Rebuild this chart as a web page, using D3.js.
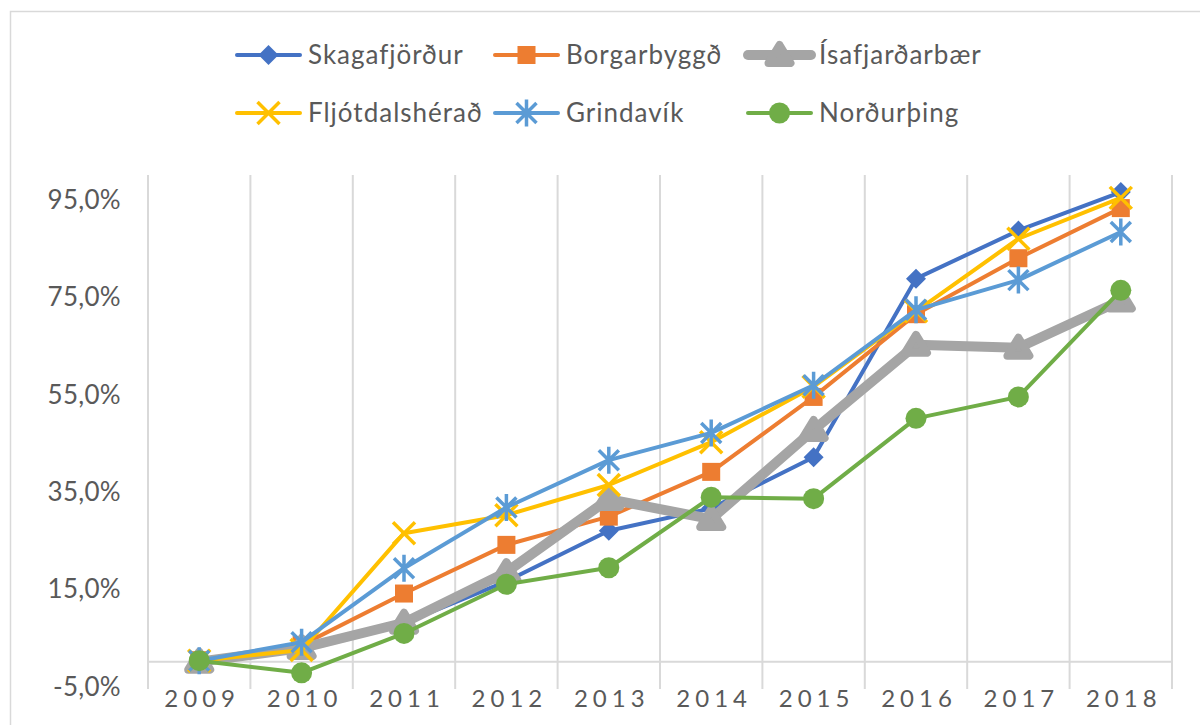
<!DOCTYPE html>
<html>
<head>
<meta charset="utf-8">
<script src="https://cdn.jsdelivr.net/npm/d3@7"></script>
<style>
  body { margin: 0; background: #fff; }
  svg text { font-family: Lato, "Open Sans", sans-serif; fill: #595959; }
</style>
</head>
<body>
<svg id="chart" width="1200" height="725"></svg>
<script>
const years = ["2009", "2010", "2011", "2012", "2013", "2014", "2015", "2016", "2017", "2018"];
const yTicks = [-5, 15, 35, 55, 75, 95];

const skagafjordur = [0.2, 2.8, 7.9, 16.5, 26.9, 31.5, 42.0, 78.7, 88.6, 96.5];
const borgarbyggd = [0.3, 3.4, 14.0, 24.0, 29.8, 39.0, 54.4, 71.4, 82.9, 93.2];
const isafjardarbaer = [0.0, 2.8, 8.0, 18.4, 33.4, 29.3, 47.6, 65.1, 64.5, 74.2];
const fljotsdalsherad = [0.2, 2.4, 26.4, 30.1, 36.3, 45.1, 56.5, 72.0, 86.9, 95.3];
const grindavik = [0.2, 4.0, 19.2, 31.7, 41.4, 47.0, 56.8, 72.3, 78.4, 88.3];
const nordurthing = [0.2, -2.3, 5.8, 15.9, 19.3, 33.8, 33.5, 50.0, 54.4, 76.3];

const series = [
  { name: "Skagafjörður", values: skagafjordur, color: "#4472C4", width: 4, marker: "diamond" },
  { name: "Borgarbyggð", values: borgarbyggd, color: "#ED7D31", width: 4, marker: "square" },
  { name: "Ísafjarðarbær", values: isafjardarbaer, color: "#A5A5A5", width: 10, marker: "triangle" },
  { name: "Fljótdalshérað", values: fljotsdalsherad, color: "#FFC000", width: 4, marker: "x" },
  { name: "Grindavík", values: grindavik, color: "#5B9BD5", width: 4, marker: "star" },
  { name: "Norðurþing", values: nordurthing, color: "#70AD47", width: 4, marker: "circle" }
];

const svg = d3.select("#chart");
const margin = { left: 148, right: 1172, top: 175, bottom: 686 };

// chart frame (only top/left edge visible in the picture)
svg.append("rect")
  .attr("x", 10.5).attr("y", 11.5).attr("width", 1200).attr("height", 730)
  .attr("fill", "none").attr("stroke", "#d9d9d9").attr("stroke-width", 1.5);

const x = d3.scaleBand().domain(years).range([margin.left, margin.right]).padding(0);
const y = d3.scaleLinear().domain([-5, 100]).range([margin.bottom, margin.top]);

const locale = d3.formatLocale({ decimal: ",", thousands: ".", grouping: [3], currency: ["", ""], minus: "-" });
const pct = (v) => locale.format(".1f")(v) + "%";

// vertical gridlines on category edges
const edges = years.map((d) => x(d)).concat([x(years[years.length - 1]) + x.bandwidth()]);
svg.append("g").selectAll("line").data(edges).join("line")
  .attr("x1", (d) => d).attr("x2", (d) => d)
  .attr("y1", margin.top).attr("y2", margin.bottom + 3)
  .attr("stroke", "#d9d9d9").attr("stroke-width", 2);

// horizontal axis at zero
svg.append("line")
  .attr("x1", margin.left).attr("x2", margin.right)
  .attr("y1", y(0)).attr("y2", y(0))
  .attr("stroke", "#d9d9d9").attr("stroke-width", 2);

// y labels
const yAxis = d3.axisLeft(y).tickValues(yTicks).tickFormat(pct).tickSize(0).tickPadding(0);
const gy = svg.append("g").attr("transform", "translate(121,1)").call(yAxis);
gy.select(".domain").remove();
gy.selectAll("text").attr("font-size", 26).attr("fill", "#595959").attr("letter-spacing", 0.3)
  .style("font-family", "Lato, 'Open Sans', sans-serif");

// x labels
svg.append("g").selectAll("text").data(years).join("text")
  .attr("x", (d) => x(d) + x.bandwidth() / 2 + 3)
  .attr("y", 707)
  .attr("text-anchor", "middle")
  .attr("font-size", 24)
  .attr("letter-spacing", 5)
  .text((d) => d);

function drawMarker(g, type, color) {
  if (type === "diamond") {
    const s = 10;
    g.append("path").attr("d", `M0,${-s}L${s},0L0,${s}L${-s},0Z`).attr("fill", color);
  } else if (type === "square") {
    const s = 9;
    g.append("rect").attr("x", -s).attr("y", -s).attr("width", s * 2).attr("height", s * 2).attr("fill", color);
  } else if (type === "triangle") {
    g.append("path").attr("d", "M0,-10L11,8L-11,8Z")
      .attr("fill", color).attr("stroke", color).attr("stroke-width", 8).attr("stroke-linejoin", "round");
  } else if (type === "x") {
    const s = 11;
    g.append("path").attr("d", `M${-s},${-s}L${s},${s}M${-s},${s}L${s},${-s}`)
      .attr("stroke", color).attr("stroke-width", 3.5);
  } else if (type === "star") {
    const s = 10;
    g.append("path").attr("d", `M${-s},${-s}L${s},${s}M${-s},${s}L${s},${-s}M0,${-s * 1.35}L0,${s * 1.35}`)
      .attr("stroke", color).attr("stroke-width", 3.5);
  } else if (type === "circle") {
    g.append("circle").attr("r", 10.5).attr("fill", color);
  }
}

const line = d3.line()
  .x((d, i) => x(years[i]) + x.bandwidth() / 2)
  .y((d) => y(d));

series.forEach((s) => {
  const g = svg.append("g");
  g.append("path")
    .attr("d", line(s.values))
    .attr("fill", "none")
    .attr("stroke", s.color)
    .attr("stroke-width", s.width)
    .attr("stroke-linejoin", "round")
    .attr("stroke-linecap", "round");
  s.values.forEach((v, i) => {
    const m = g.append("g").attr("transform", `translate(${x(years[i]) + x.bandwidth() / 2},${y(v)})`);
    drawMarker(m, s.marker, s.color);
  });
});

// legend
const legendPos = [
  { lx: 237, ty: 55 }, { lx: 495, ty: 55 }, { lx: 748, ty: 55 },
  { lx: 237, ty: 113 }, { lx: 495, ty: 113 }, { lx: 748, ty: 113 }
];
series.forEach((s, i) => {
  const p = legendPos[i];
  const g = svg.append("g").attr("transform", `translate(${p.lx},${p.ty})`);
  g.append("line").attr("x1", 0).attr("x2", 63).attr("y1", 0).attr("y2", 0)
    .attr("stroke", s.color).attr("stroke-width", s.width).attr("stroke-linecap", "round");
  drawMarker(g.append("g").attr("transform", "translate(31.5,0)"), s.marker, s.color);
  g.append("text").attr("x", 71).attr("y", 9).attr("font-size", 26).attr("letter-spacing", 1).text(s.name);
});
</script>
</body>
</html>
